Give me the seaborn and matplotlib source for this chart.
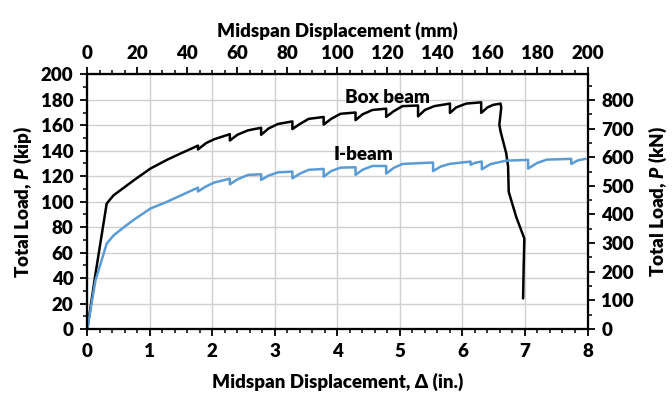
import numpy as np
import pandas as pd
import matplotlib
matplotlib.use("Agg")
import matplotlib.pyplot as plt
import seaborn as sns
from matplotlib.ticker import MultipleLocator

# ---- data ----
box_x = [0, 0.13, 0.31, 0.42, 0.60, 0.75, 1.01, 1.28, 1.50, 1.77, 1.77, 1.90, 2.03,
         2.28, 2.28, 2.40, 2.57, 2.78, 2.78, 2.90, 3.05, 3.28, 3.28, 3.40, 3.54,
         3.78, 3.78, 3.90, 4.05, 4.29, 4.29, 4.40, 4.56, 4.78, 4.78, 4.90, 5.04,
         5.29, 5.29, 5.40, 5.55, 5.80, 5.80, 5.90, 6.06, 6.30, 6.30, 6.40, 6.49,
         6.61, 6.62, 6.59, 6.61, 6.70, 6.73, 6.74, 6.86, 6.99, 6.98, 6.97]
box_y = [0, 43, 98.5, 105, 111.5, 117, 126, 133, 138, 144, 141, 146, 149,
         153, 148, 152.5, 156, 158, 152.5, 157.5, 161, 163, 157, 161, 165,
         166.5, 160.5, 165, 169, 170, 164, 168.5, 172, 173, 166.6, 171, 175,
         175.5, 167, 172, 175, 177, 169.7, 174, 177, 178, 169.7, 174, 176,
         177, 173.6, 160.5, 155, 138, 127.5, 107.7, 88, 71, 51, 24]

ibeam_x = [0, 0.13, 0.31, 0.42, 0.60, 0.75, 1.01, 1.28, 1.50, 1.77, 1.77, 1.90, 2.03,
           2.28, 2.28, 2.40, 2.57, 2.78, 2.78, 2.90, 3.05, 3.28, 3.28, 3.40, 3.54,
           3.78, 3.78, 3.90, 4.05, 4.29, 4.29, 4.40, 4.56, 4.78, 4.78, 4.90, 5.04,
           5.30, 5.53, 5.53, 5.65, 5.79, 6.13, 6.13, 6.20, 6.31, 6.31, 6.45, 6.70,
           7.05, 7.05, 7.20, 7.35, 7.74, 7.74, 7.85, 7.97]
ibeam_y = [0, 38, 67, 73.5, 80.5, 86, 94.6, 100, 105, 111, 108, 112, 115,
           118, 113.6, 117.5, 121, 121.5, 117, 120.5, 123, 123.6, 118.3, 122, 125,
           125.7, 119.6, 124, 126.7, 127, 121, 125, 128, 128, 122, 126.5, 129.6,
           130.2, 130.7, 124, 127.5, 129.6, 131.5, 129, 130.5, 131.5, 125.4, 129.5, 132.2,
           132.8, 126, 130.5, 133, 133.6, 129.6, 132.5, 133.6]

series_names = ["Box beam", "I-beam"]
series_colors = ["#000000", "#5B9BD5"]

x_ticks_in = [0, 1, 2, 3, 4, 5, 6, 7, 8]
y_ticks_kip = list(range(0, 201, 20))

df = pd.concat([
    pd.DataFrame({"disp": box_x, "load": box_y, "beam": series_names[0]}),
    pd.DataFrame({"disp": ibeam_x, "load": ibeam_y, "beam": series_names[1]}),
], ignore_index=True)

# ---- style ----
sns.set_theme(style="white")
W = "heavy"
plt.rcParams["font.family"] = ["Lato", "DejaVu Sans"]
plt.rcParams["font.weight"] = W
plt.rcParams["axes.labelweight"] = W
plt.rcParams["text.color"] = "black"
plt.rcParams["axes.labelcolor"] = "black"
plt.rcParams["xtick.color"] = "black"
plt.rcParams["ytick.color"] = "black"
plt.rcParams["mathtext.fontset"] = "custom"
plt.rcParams["mathtext.it"] = "Lato:italic:heavy"
plt.rcParams["mathtext.rm"] = "Lato:heavy"
plt.rcParams["mathtext.bf"] = "Lato:heavy"

fs = 13.5
fig = plt.figure(figsize=(6.72, 3.94), dpi=100)
ax = fig.add_axes([87.3 / 672, 1 - 329 / 394, 500.2 / 672, 254.7 / 394])

sns.lineplot(data=df, x="disp", y="load", hue="beam", sort=False, estimator=None,
             palette=dict(zip(series_names, series_colors)), linewidth=1.8,
             legend=False, ax=ax)

ax.set_xlim(0, 8)
ax.set_ylim(0, 200)
ax.set_xticks(x_ticks_in)
ax.set_yticks(y_ticks_kip)
ax.xaxis.set_minor_locator(MultipleLocator(0.2))
ax.yaxis.set_minor_locator(MultipleLocator(10))
ax.grid(True, which="major", color="#D0D0D0", linewidth=1.0)
ax.set_axisbelow(True)
for s in ax.spines.values():
    s.set_color("black")
    s.set_linewidth(1.5)
ax.tick_params(which="major", direction="out", length=5, width=1.3, colors="black",
               labelsize=fs, pad=5, bottom=True, left=True)
ax.tick_params(which="minor", direction="out", length=3, width=1.1, colors="black",
               bottom=True, left=True)
for lab in ax.get_xticklabels() + ax.get_yticklabels():
    lab.set_fontweight(W)
ax.set_xlabel("Midspan Displacement, Δ (in.)", fontsize=fs, fontweight=W,
              color="black", labelpad=9)
ax.set_ylabel("Total Load, $P$ (kip)", fontsize=fs, fontweight=W,
              color="black", labelpad=5)

# top axis (mm)
axt = ax.twiny()
axt.set_xlim(0, 200)
axt.set_xticks(range(0, 201, 20))
axt.xaxis.set_minor_locator(MultipleLocator(5))
axt.tick_params(which="major", direction="out", length=5, width=1.3, colors="black",
                labelsize=fs, pad=4, top=True)
axt.tick_params(which="minor", direction="out", length=3, width=1.1, colors="black", top=True)
for lab in axt.get_xticklabels():
    lab.set_fontweight(W)
axt.set_xlabel("Midspan Displacement (mm)", fontsize=fs, fontweight=W,
               color="black", labelpad=6)
axt.grid(False)

# right axis (kN)
axr = ax.twinx()
axr.set_ylim(0, 200 * 4.448)
axr.set_yticks(range(0, 801, 100))
axr.yaxis.set_minor_locator(MultipleLocator(50))
axr.tick_params(which="major", direction="out", length=5, width=1.3, colors="black",
                labelsize=fs, pad=5, right=True)
axr.tick_params(which="minor", direction="out", length=3, width=1.1, colors="black", right=True)
for lab in axr.get_yticklabels():
    lab.set_fontweight(W)
axr.set_ylabel("Total Load, $P$ (kN)", fontsize=fs, fontweight=W,
               color="black", labelpad=9)
axr.grid(False)
for a in (axt, axr):
    for s in a.spines.values():
        s.set_color("black")
        s.set_linewidth(1.5)

ax.text(4.8, 182, "Box beam", fontsize=fs, fontweight=W, color="black",
        ha="center", va="center")
ax.text(4.41, 137, "I-beam", fontsize=fs, fontweight=W, color="black",
        ha="center", va="center")

fig.savefig("out.png", dpi=100)
